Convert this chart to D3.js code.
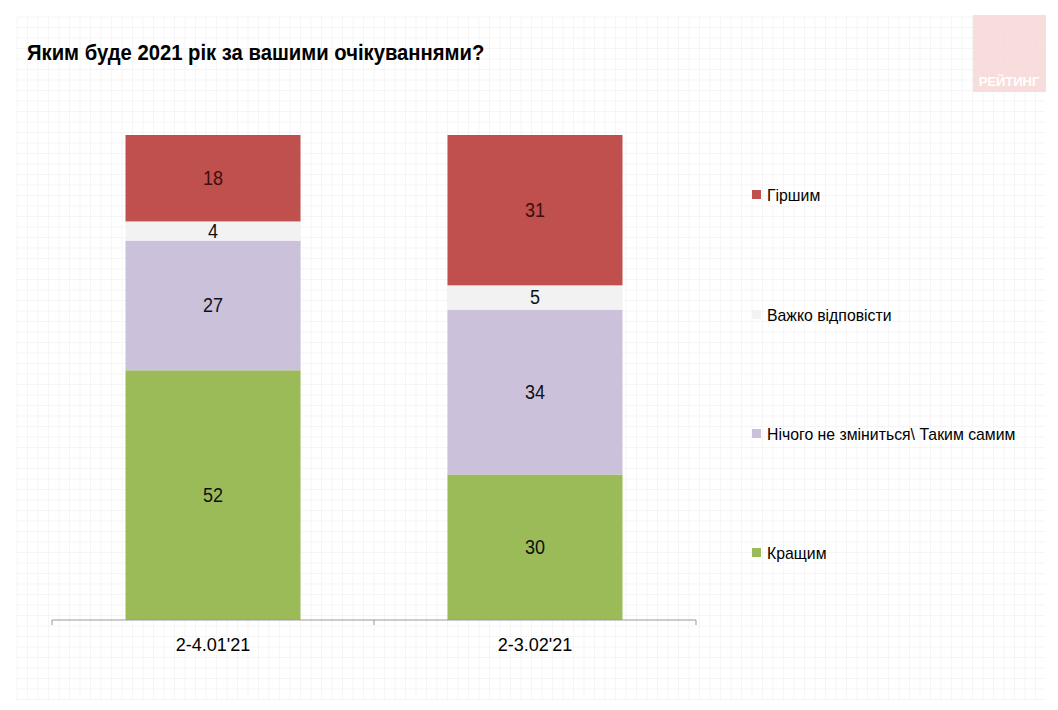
<!DOCTYPE html>
<html>
<head>
<meta charset="utf-8">
<script src="https://cdn.jsdelivr.net/npm/d3@7"></script>
<style>
  body { margin: 0; background: #fff; }
  text { font-family: "Liberation Sans", Arial, sans-serif; }
</style>
</head>
<body>
<svg id="chart"></svg>
<script>
const categories = ["2-4.01'21", "2-3.02'21"];
const seriesNames = ["Кращим", "Нічого не зміниться\\ Таким самим", "Важко відповісти", "Гіршим"];
const better = [52, 30];
const same = [27, 34];
const hard = [4, 5];
const worse = [18, 31];
const colors = ["#9BBB59", "#CCC1DA", "#F2F2F2", "#C0504D"];

const width = 1058, height = 710;
const svg = d3.select("#chart").attr("width", width).attr("height", height);

// squeeze text a bit to mimic the narrow font of the original
function narrow(sel, k) {
  sel.each(function () {
    const len = this.getComputedTextLength();
    d3.select(this).attr("textLength", len * k).attr("lengthAdjust", "spacingAndGlyphs");
  });
}

// faint grid background
const grid = svg.append("g");
for (let x = 17; x <= 1045; x += 10.5) {
  grid.append("line").attr("x1", x).attr("x2", x).attr("y1", 17).attr("y2", 700)
    .attr("stroke", "#f5f5f5").attr("stroke-width", 1);
}
for (let y = 17; y <= 700; y += 10.5) {
  grid.append("line").attr("x1", 17).attr("x2", 1045).attr("y1", y).attr("y2", y)
    .attr("stroke", "#f5f5f5").attr("stroke-width", 1);
}

// logo
svg.append("rect").attr("x", 973).attr("y", 15).attr("width", 73).attr("height", 77)
  .attr("fill", "#f6d2d2").attr("opacity", 0.75);
svg.append("text").attr("x", 1009).attr("y", 86).attr("text-anchor", "middle")
  .attr("fill", "#fff").attr("font-weight", "bold").attr("font-size", 13).text("РЕЙТИНГ");

svg.append("text").attr("x", 27).attr("y", 60).attr("font-weight", "bold")
  .attr("font-size", 22).attr("fill", "#000").text("Яким буде 2021 рік за вашими очікуваннями?")
  .call(narrow, 0.92);

const table = categories.map((c, i) => ({
  cat: c, s0: better[i], s1: same[i], s2: hard[i], s3: worse[i]
}));
const keys = ["s0", "s1", "s2", "s3"];
const stacked = d3.stack().keys(keys).offset(d3.stackOffsetExpand)(table);

const x = d3.scaleBand().domain(categories).range([52, 696]).paddingInner(0).paddingOuter(0);
const barW = 175;
const y = d3.scaleLinear().domain([0, 1]).range([620, 135]);

const layers = svg.append("g").selectAll("g").data(stacked).enter().append("g")
  .attr("fill", (d, i) => colors[i]);

layers.selectAll("rect").data(d => d).enter().append("rect")
  .attr("x", d => x(d.data.cat) + (x.bandwidth() - barW) / 2)
  .attr("y", d => y(d[1]))
  .attr("width", barW)
  .attr("height", d => y(d[0]) - y(d[1]));

stacked.forEach((layer, li) => {
  layer.forEach(d => {
    svg.append("text")
      .attr("x", x(d.data.cat) + x.bandwidth() / 2)
      .attr("y", (y(d[0]) + y(d[1])) / 2 + 7)
      .attr("text-anchor", "middle")
      .attr("font-size", 20)
      .attr("fill", li === 3 ? "#3a0f0f" : "#111")
      .text(d.data[layer.key])
      .call(narrow, 0.9);
  });
});

// x axis
const axis = svg.append("g").attr("transform", "translate(0,620)")
  .call(d3.axisBottom(x).tickSize(0).tickPadding(18));
axis.select(".domain").attr("stroke", "#999").attr("d", "M52,0H696");
axis.selectAll(".tick text").attr("font-size", 19).attr("fill", "#000")
  .attr("font-family", "Liberation Sans, Arial, sans-serif")
  .call(narrow, 0.95);
[52, 374, 696].forEach(t => {
  axis.append("line").attr("x1", t).attr("x2", t).attr("y1", 0).attr("y2", 5).attr("stroke", "#999");
});

// legend
const legendY = [553, 434, 315, 195];
const legend = svg.append("g");
seriesNames.forEach((n, i) => {
  legend.append("rect").attr("x", 752).attr("y", legendY[i] - 5).attr("width", 9).attr("height", 9)
    .attr("fill", colors[i]);
  legend.append("text").attr("x", 767).attr("y", legendY[i] + 6)
    .attr("font-size", 17).attr("fill", "#000").text(n)
    .call(narrow, 0.93);
});
</script>
</body>
</html>
